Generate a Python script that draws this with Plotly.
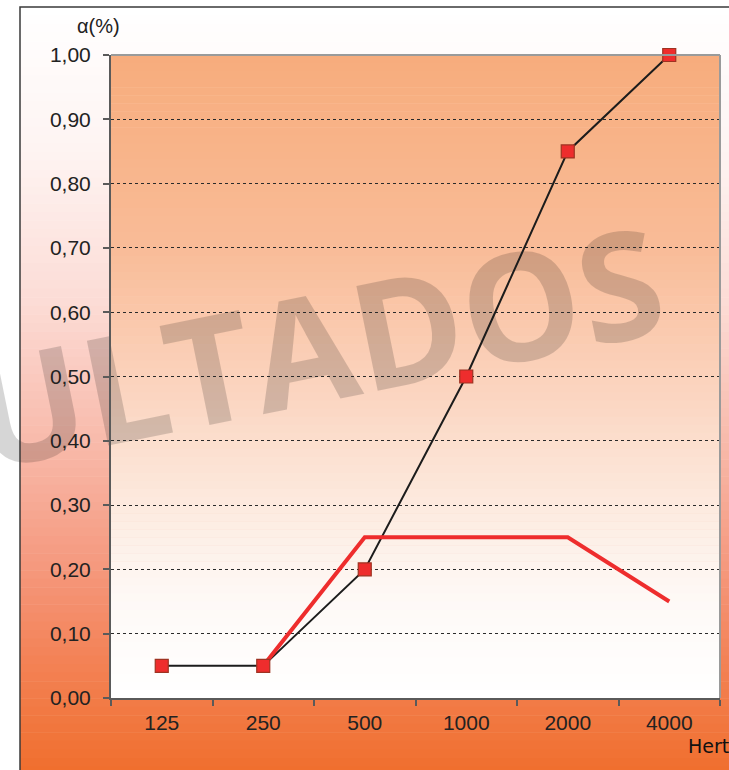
import plotly.graph_objects as go

# ---- data ----
categories = ["125", "250", "500", "1000", "2000", "4000"]
series_black = [0.05, 0.05, 0.20, 0.50, 0.85, 1.00]
series_red = [None, 0.05, 0.25, 0.25, 0.25, 0.15]
y_ticks = [0.0, 0.1, 0.2, 0.3, 0.4, 0.5, 0.6, 0.7, 0.8, 0.9, 1.0]

W, H = 729, 770
L, R, T, B = 111, 720, 55, 698  # plot area in pixels


def px(x):
    return (x - L) / (R - L)


def py(y):
    return (B - y) / (B - T)


def hex2rgb(h):
    h = h.lstrip("#")
    return tuple(int(h[i:i + 2], 16) for i in (0, 2, 4))


def interp(stops, y):
    for (y0, c0), (y1, c1) in zip(stops, stops[1:]):
        if y0 <= y <= y1:
            t = (y - y0) / (y1 - y0)
            a, b = hex2rgb(c0), hex2rgb(c1)
            return "rgb(%d,%d,%d)" % tuple(round(a[i] + (b[i] - a[i]) * t) for i in range(3))
    return "rgb(%d,%d,%d)" % hex2rgb(stops[-1][1])


outer_stops = [(7, "#FFFFFF"), (150, "#FEF4F2"), (300, "#FCDCD6"), (450, "#F8B8A8"),
               (560, "#F59A80"), (660, "#F38256"), (775, "#F06E2C")]
plot_stops = [(55, "#F7AC7C"), (250, "#F9BC98"), (400, "#FBD6C2"), (520, "#FDEDE3"),
              (600, "#FEF9F6"), (698, "#FFFFFF")]

shapes = []
n = 90
y0, y1 = 7, 775
for i in range(n):
    a = y0 + (y1 - y0) * i / n
    b = y0 + (y1 - y0) * (i + 1) / n
    shapes.append(dict(type="rect", xref="paper", yref="paper", layer="below",
                       x0=px(20), x1=px(740), y0=py(b + 0.5), y1=py(a),
                       fillcolor=interp(outer_stops, (a + b) / 2), line=dict(width=0)))
n = 80
for i in range(n):
    a = T + (B - T) * i / n
    b = T + (B - T) * (i + 1) / n
    shapes.append(dict(type="rect", xref="paper", yref="paper", layer="below",
                       x0=0, x1=1, y0=py(b + 0.5), y1=py(a),
                       fillcolor=interp(plot_stops, (a + b) / 2), line=dict(width=0)))

# watermark (below traces)
wx, wy = 318, 354
shapes.append(dict(type="rect", xref="paper", yref="paper", layer="below",
                   x0=px(wx - 10), x1=px(wx + 10), y0=py(wy + 10), y1=py(wy - 10),
                   line=dict(width=0), fillcolor="rgba(0,0,0,0)",
                   label=dict(text="<b>ULTADOS</b>", textangle=-11.5,
                              textposition="middle center",
                              font=dict(family="Open Sans", size=150,
                                        color="rgba(0,0,0,0.16)"))))

# outer border
shapes.append(dict(type="rect", xref="paper", yref="paper", layer="above",
                   x0=px(20), x1=px(745), y0=py(785), y1=py(7),
                   line=dict(color="#3a3a3a", width=1.5), fillcolor="rgba(0,0,0,0)"))
# top and right frame of plot area
shapes.append(dict(type="line", xref="paper", yref="paper", layer="above",
                   x0=0, x1=1, y0=1, y1=1, line=dict(color="#9a9a9a", width=2)))
shapes.append(dict(type="line", xref="paper", yref="paper", layer="above",
                   x0=1, x1=1, y0=0, y1=1, line=dict(color="#9a9a9a", width=2)))

fig = go.Figure()
fig.add_trace(go.Scatter(x=categories, y=series_black, mode="lines",
                         line=dict(color="#1c1c1c", width=2), cliponaxis=False,
                         showlegend=False, hoverinfo="skip"))
fig.add_trace(go.Scatter(x=categories, y=series_red, mode="lines",
                         line=dict(color="#EE2D2D", width=4), cliponaxis=False,
                         showlegend=False, connectgaps=False))
fig.add_trace(go.Scatter(x=categories, y=series_black, mode="markers",
                         marker=dict(symbol="square", size=13, color="#EE2D2D",
                                     line=dict(color="#9E3322", width=1.2)),
                         cliponaxis=False, showlegend=False))

tick_font = dict(family="Liberation Sans, Arial", size=21, color="#222222")

fig.update_layout(
    width=W, height=H,
    margin=dict(l=L, r=W - R, t=T, b=H - B, pad=0),
    paper_bgcolor="white",
    plot_bgcolor="rgba(0,0,0,0)",
    separators=",.",
    shapes=shapes,
    xaxis=dict(type="category", categoryorder="array", categoryarray=categories,
               range=[-0.5, 5.5], showgrid=False, zeroline=False,
               showline=True, linecolor="#5a5a5a", linewidth=2,
               ticks="outside", tickson="boundaries", ticklen=6, tickwidth=1.5,
               tickcolor="#5a5a5a", tickfont=tick_font, ticklabelstandoff=5,
               fixedrange=True),
    yaxis=dict(range=[0, 1], tickvals=y_ticks, tickformat=".2f",
               showgrid=True, gridcolor="#2a2a2a", gridwidth=1, griddash="dot",
               zeroline=False, showline=True, linecolor="#5a5a5a", linewidth=2,
               ticks="outside", ticklen=6, tickwidth=1.5, tickcolor="#5a5a5a",
               tickfont=tick_font, ticklabelstandoff=8, fixedrange=True),
    annotations=[
        dict(text="α(%)", xref="paper", yref="paper", x=px(98), y=py(26),
             xanchor="center", yanchor="middle", showarrow=False,
             font=dict(family="Liberation Sans, Arial", size=20, color="#222222")),
        dict(text="Hertz", xref="paper", yref="paper", x=px(686), y=py(746),
             xanchor="left", yanchor="middle", showarrow=False,
             font=dict(family="DejaVu Sans", size=19, color="#111111")),
    ],
)

fig.write_html("out.html", config={"displayModeBar": False},
               post_script="document.body.style.margin='0';document.body.style.overflow='hidden';")
